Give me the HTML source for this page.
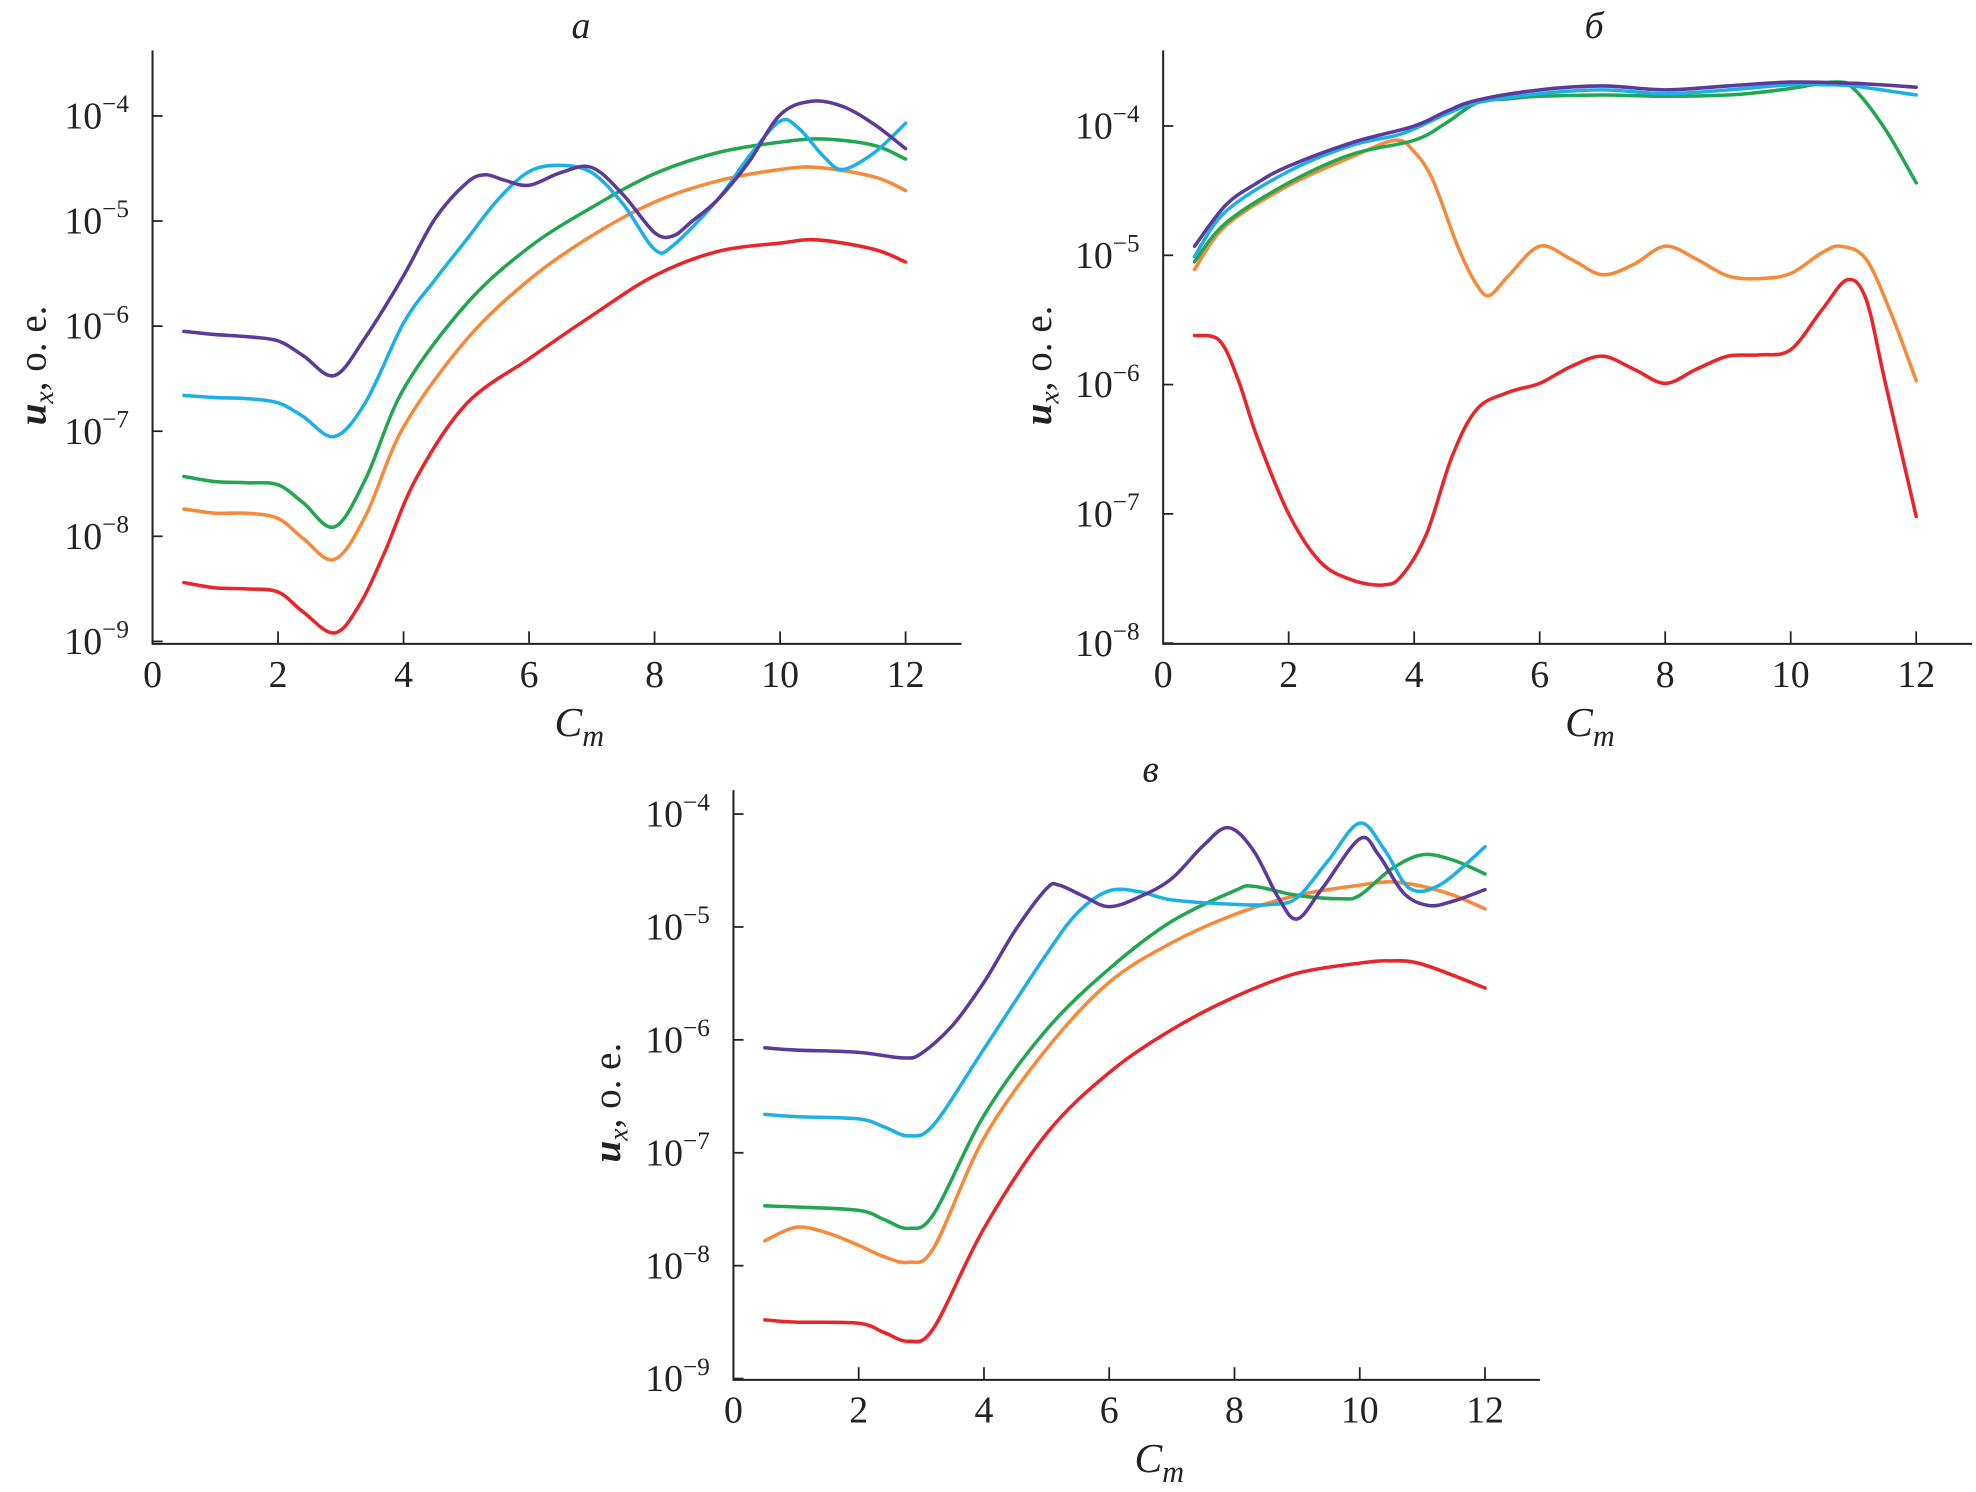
<!DOCTYPE html>
<html><head><meta charset="utf-8"><style>
html,body{margin:0;padding:0;background:#fff}
svg{display:block}
text{font-family:"Liberation Serif",serif;fill:#222}
</style></head><body>
<svg id="fig" width="1976" height="1492" viewBox="0 0 1568 1184" xmlns="http://www.w3.org/2000/svg"></svg>
<script>
const xTicks=[0,2,4,6,8,10,12];
const colors={purple:"#5b3a9a",cyan:"#1cb0e6",green:"#22a650",orange:"#f58a3a",red:"#e8262a"};
// Panel a
const aPurpleX=[0.5,1,1.5,2,2.4,2.9,3.4,4,4.5,5,5.3,5.6,6,6.5,7,7.5,8,8.3,8.6,9,9.5,10,10.5,11,11.5,12];
const aPurpleY=[-6.05,-6.08,-6.10,-6.14,-6.28,-6.47,-6.10,-5.52,-4.98,-4.64,-4.56,-4.61,-4.66,-4.54,-4.49,-4.75,-5.11,-5.14,-5.00,-4.80,-4.44,-3.99,-3.86,-3.91,-4.08,-4.31];
const aCyanX=[0.5,1,1.5,2,2.4,2.9,3.4,4,4.5,5,5.5,6,6.5,7,7.5,8,8.3,9,9.5,10,10.3,10.7,11,11.5,12];
const aCyanY=[-6.66,-6.68,-6.69,-6.73,-6.86,-7.05,-6.72,-5.97,-5.56,-5.18,-4.80,-4.53,-4.47,-4.54,-4.84,-5.27,-5.23,-4.80,-4.39,-4.05,-4.12,-4.39,-4.51,-4.35,-4.07];
const aGreenX=[0.5,1,1.5,2,2.4,2.9,3.4,4,5,6,7,8,9,10,10.7,11.5,12];
const aGreenY=[-7.43,-7.48,-7.49,-7.51,-7.68,-7.91,-7.45,-6.60,-5.79,-5.25,-4.87,-4.55,-4.35,-4.25,-4.22,-4.28,-4.41];
const aOrangeX=[0.5,1,1.5,2,2.4,2.9,3.4,4,5,6,7,8,9,10,10.6,11.5,12];
const aOrangeY=[-7.74,-7.78,-7.78,-7.83,-8.02,-8.22,-7.80,-6.96,-6.13,-5.56,-5.14,-4.82,-4.62,-4.51,-4.49,-4.58,-4.71];
const aRedX=[0.5,1,1.5,2,2.4,2.9,3.3,3.7,4.2,5,6,7,8,9,10,10.6,11.5,12];
const aRedY=[-8.44,-8.49,-8.50,-8.53,-8.72,-8.92,-8.65,-8.15,-7.45,-6.74,-6.31,-5.90,-5.52,-5.29,-5.21,-5.18,-5.27,-5.39];
// Panel b
const bPurpleX=[0.5,1,1.5,2,3,4,4.5,5,6,7,8,9,10,11,12];
const bPurpleY=[-4.93,-4.61,-4.44,-4.31,-4.13,-4.00,-3.89,-3.80,-3.72,-3.69,-3.72,-3.69,-3.66,-3.67,-3.70];
const bCyanX=[0.5,1,2,3,3.8,4.5,5,6,7,8,9,10,10.5,11,12];
const bCyanY=[-5.01,-4.66,-4.35,-4.15,-4.06,-3.91,-3.82,-3.75,-3.72,-3.75,-3.72,-3.68,-3.68,-3.69,-3.76];
const bGreenX=[0.5,1,2,3,4,4.5,5,5.5,6,7,8,9,9.5,10,10.7,11,11.5,12];
const bGreenY=[-5.05,-4.75,-4.44,-4.22,-4.11,-3.98,-3.82,-3.79,-3.77,-3.76,-3.77,-3.76,-3.74,-3.71,-3.66,-3.71,-4.02,-4.44];
const bOrangeX=[0.5,1,2,3,3.7,4,4.3,4.7,5,5.2,5.5,6,6.5,7,7.5,8,8.5,9,9.5,10,10.5,10.8,11.2,11.6,12];
const bOrangeY=[-5.11,-4.77,-4.46,-4.24,-4.11,-4.20,-4.42,-4.94,-5.23,-5.31,-5.16,-4.93,-5.03,-5.15,-5.07,-4.93,-5.03,-5.16,-5.18,-5.14,-4.98,-4.93,-5.03,-5.45,-5.97];
const bRedX=[0.5,0.9,1.2,1.5,2,2.5,3,3.5,3.8,4.2,4.6,5,5.5,6,6.5,7,7.5,8,8.5,9,9.5,10,10.5,10.9,11.2,11.5,12];
const bRedY=[-5.62,-5.66,-5.97,-6.41,-7.00,-7.37,-7.51,-7.55,-7.48,-7.15,-6.56,-6.19,-6.06,-5.99,-5.86,-5.78,-5.88,-5.99,-5.88,-5.78,-5.77,-5.73,-5.42,-5.19,-5.34,-5.97,-7.02];
// Panel c
const cPurpleX=[0.5,1,2,2.7,3,3.5,4,4.5,5,5.2,5.6,6,6.5,7,7.5,7.9,8.3,8.7,9,9.4,10,10.3,10.7,11.1,11.5,12];
const cPurpleY=[-6.07,-6.09,-6.11,-6.16,-6.12,-5.87,-5.49,-5.03,-4.66,-4.63,-4.73,-4.82,-4.73,-4.57,-4.28,-4.12,-4.32,-4.74,-4.93,-4.66,-4.22,-4.36,-4.70,-4.81,-4.77,-4.67];
const cCyanX=[0.5,1,2,2.4,2.8,3.2,4,5,5.5,6,6.5,7,8,8.6,9,9.5,10,10.4,10.8,11.3,12];
const cCyanY=[-6.66,-6.68,-6.70,-6.77,-6.85,-6.75,-6.08,-5.24,-4.87,-4.68,-4.69,-4.76,-4.80,-4.80,-4.74,-4.41,-4.08,-4.32,-4.66,-4.62,-4.29];
const cGreenX=[0.5,1,2,2.4,2.8,3.2,4,5,6,7,8,8.3,9,9.7,10,10.5,11,11.5,12];
const cGreenY=[-7.47,-7.48,-7.51,-7.59,-7.67,-7.54,-6.67,-5.91,-5.37,-4.95,-4.68,-4.64,-4.72,-4.75,-4.72,-4.49,-4.36,-4.41,-4.53];
const cOrangeX=[0.5,1,1.5,2,2.4,2.8,3.2,4,5,6,7,8,9,10,10.5,11,11.5,12];
const cOrangeY=[-7.78,-7.66,-7.71,-7.82,-7.92,-7.97,-7.84,-6.87,-6.08,-5.49,-5.14,-4.89,-4.72,-4.63,-4.60,-4.64,-4.72,-4.84];
const cRedX=[0.5,1,2,2.4,2.8,3.2,4,5,6,7,8,9,10,10.5,11,12];
const cRedY=[-8.48,-8.50,-8.51,-8.59,-8.67,-8.55,-7.67,-6.83,-6.29,-5.91,-5.62,-5.41,-5.32,-5.30,-5.33,-5.54];

const NS="http://www.w3.org/2000/svg";
const svg=document.getElementById('fig');
function mk(tag,attrs,parent){const e=document.createElementNS(NS,tag);for(const k in attrs)e.setAttribute(k,attrs[k]);(parent||svg).appendChild(e);return e;}
function smooth(pts){let d="M"+pts[0][0].toFixed(1)+","+pts[0][1].toFixed(1);
 for(let i=0;i<pts.length-1;i++){const p0=pts[Math.max(0,i-1)],p1=pts[i],p2=pts[i+1],p3=pts[Math.min(pts.length-1,i+2)];
  const c1=[p1[0]+(p2[0]-p0[0])/6,p1[1]+(p2[1]-p0[1])/6],c2=[p2[0]-(p3[0]-p1[0])/6,p2[1]-(p3[1]-p1[1])/6];
  d+=" C"+c1[0].toFixed(1)+","+c1[1].toFixed(1)+" "+c2[0].toFixed(1)+","+c2[1].toFixed(1)+" "+p2[0].toFixed(1)+","+p2[1].toFixed(1);}
 return d;}
function panel(cfg){
 const g=mk('g',{});
 
 
 const xs=v=>cfg.x0+v*cfg.ux;
 const ys=v=>cfg.yTop-(v-cfg.eTop)*cfg.dec;
 const ax=mk('path',{d:`M${cfg.x0},${cfg.top} V${cfg.yAxis} H${cfg.right}`,fill:'none',stroke:'#222','stroke-width':1.6},g);
 
 
 xTicks.forEach(t=>{
  if(t>0){const tk=mk('line',{x1:xs(t),x2:xs(t),y1:cfg.yAxis,y2:cfg.yAxis-10,stroke:'#222','stroke-width':1.4},g);
   
   }
  const tl=mk('text',{x:xs(t),y:cfg.yAxis+34,'text-anchor':'middle','font-size':30},g);tl.textContent=t;
  
  
 });
 cfg.exps.forEach(e=>{const y=ys(e);
  const tk=mk('line',{x1:cfg.x0,x2:cfg.x0+8,y1:y,y2:y,stroke:'#222','stroke-width':1.4},g);
  
  
  const tl=mk('text',{x:cfg.x0-70,y:y+10,'font-size':30},g);
  
  
  tl.textContent="10";
  const sp=mk('tspan',{dy:-13,'font-size':20},tl);sp.textContent="−"+(-e);
 });
 const tt=mk('text',{x:cfg.titleX,y:cfg.titleY,'text-anchor':'middle','font-size':30,'font-style':'italic'},g);tt.textContent=cfg.title;
 
 
 const xl=mk('text',{x:cfg.x0+6.8*cfg.ux,y:cfg.yAxis+73,'text-anchor':'middle','font-size':33,'font-style':'italic'},g);
 xl.textContent="C";const s2=mk('tspan',{dy:8,'font-size':24},xl);s2.textContent="m";
 
 
 const yl=mk('text',{transform:`translate(${cfg.ylx},${cfg.yly}) rotate(-90)`,'text-anchor':'middle','font-size':31},g);
 
 
 const u=mk('tspan',{'font-style':'italic','font-weight':'bold'},yl);u.textContent="u";
 const sx=mk('tspan',{'font-style':'italic','font-size':22,dy:6},yl);sx.textContent="x";
 const rest=mk('tspan',{dy:-6},yl);rest.textContent=", о. е.";
 cfg.series.forEach(s=>{
  const pts=s.x.map((v,i)=>[xs(v),ys(s.y[i])]);
  const p=mk('path',{d:smooth(pts),fill:'none',stroke:colors[s.c],'stroke-width':2.8,'stroke-linejoin':'round','stroke-linecap':'round'},g);
  
  
 });
}
panel({name:'panel-a',title:'а',titleX:461,titleY:30,x0:121,ux:49.8,top:40,yAxis:511,right:763,yTop:92,eTop:-4,dec:83.4,exps:[-4,-5,-6,-7,-8,-9],ylx:36,yly:290,
 series:[{x:aRedX,y:aRedY,c:'red'},{x:aOrangeX,y:aOrangeY,c:'orange'},{x:aGreenX,y:aGreenY,c:'green'},{x:aCyanX,y:aCyanY,c:'cyan'},{x:aPurpleX,y:aPurpleY,c:'purple'}]});
panel({name:'panel-b',title:'б',titleX:1265,titleY:30,x0:923,ux:49.8,top:40,yAxis:511,right:1565,yTop:100,eTop:-4,dec:102.6,exps:[-4,-5,-6,-7,-8],ylx:834,yly:290,
 series:[{x:bRedX,y:bRedY,c:'red'},{x:bOrangeX,y:bOrangeY,c:'orange'},{x:bGreenX,y:bGreenY,c:'green'},{x:bCyanX,y:bCyanY,c:'cyan'},{x:bPurpleX,y:bPurpleY,c:'purple'}]});
panel({name:'panel-c',title:'в',titleX:913,titleY:620,x0:582,ux:49.7,top:627,yAxis:1095,right:1222,yTop:646,eTop:-4,dec:89.6,exps:[-4,-5,-6,-7,-8,-9],ylx:492,yly:875,
 series:[{x:cRedX,y:cRedY,c:'red'},{x:cOrangeX,y:cOrangeY,c:'orange'},{x:cGreenX,y:cGreenY,c:'green'},{x:cCyanX,y:cCyanY,c:'cyan'},{x:cPurpleX,y:cPurpleY,c:'purple'}]});
</script>
</body></html>
